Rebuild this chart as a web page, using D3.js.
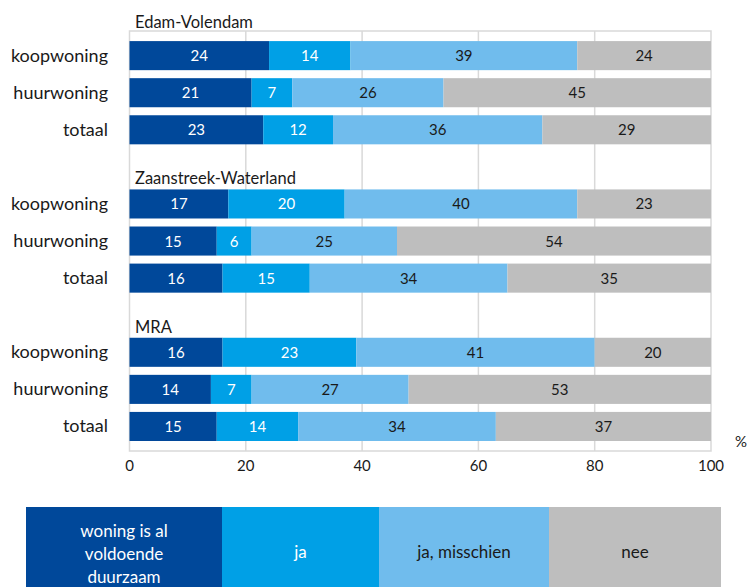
<!DOCTYPE html>
<html>
<head>
<meta charset="utf-8">
<script src="https://cdn.jsdelivr.net/npm/d3@7/dist/d3.min.js"></script>
<style>
  html, body { margin: 0; padding: 0; background: #fff; }
  svg { display: block; font-family: Lato, "Noto Sans", sans-serif; }
</style>
</head>
<body>
<svg id="chart" width="749" height="587"></svg>
<script>
// ---- data ----
const groups = ["Edam-Volendam", "Zaanstreek-Waterland", "MRA"];
const rowTypes = ["koopwoning", "huurwoning", "totaal"];
const seriesNames = ["woning is al voldoende duurzaam", "ja", "ja, misschien", "nee"];
const edamValues = [[24, 14, 39, 24], [21, 7, 26, 45], [23, 12, 36, 29]];
const zaanValues = [[17, 20, 40, 23], [15, 6, 25, 54], [16, 15, 34, 35]];
const mraValues  = [[16, 23, 41, 20], [14, 7, 27, 53], [15, 14, 34, 37]];
const xTicks = [0, 20, 40, 60, 80, 100];

const groupValues = [edamValues, zaanValues, mraValues];
const colors = ["#00489A", "#00A0E6", "#70BCED", "#BEBEBE"];
const labelColors = ["#ffffff", "#ffffff", "#1a1a1a", "#1a1a1a"];
const legendLines = [["woning is al", "voldoende", "duurzaam"], ["ja"], ["ja, misschien"], ["nee"]];

// ---- layout ----
const svg = d3.select("#chart");
const left = 129.5, right = 711, frameTop = 31, frameBottom = 451;

const x = d3.scaleLinear().domain([0, 100]).range([left, right]).clamp(true);

const slots = [];
groups.forEach(g => {
  slots.push(g + "|title");
  rowTypes.forEach(r => slots.push(g + "|" + r));
});
const y = d3.scaleBand().domain(slots).range([0, 445])
  .paddingInner(8 / 37).paddingOuter(4 / 37);

// grid + frame
const gridColor = "#D9D9D9";
svg.append("g").selectAll("line").data(xTicks.slice(1, -1)).join("line")
  .attr("x1", d => x(d)).attr("x2", d => x(d))
  .attr("y1", frameTop).attr("y2", frameBottom)
  .attr("stroke", gridColor).attr("stroke-width", 1.5);
svg.append("rect")
  .attr("x", left).attr("y", frameTop)
  .attr("width", right - left).attr("height", frameBottom - frameTop)
  .attr("fill", "none").attr("stroke", gridColor).attr("stroke-width", 1.5);

// build stacked segments (last segment fills to 100%, as in the source which used unrounded shares)
const rows = [];
groups.forEach((g, gi) => {
  rowTypes.forEach((r, ri) => {
    const vals = groupValues[gi][ri];
    let cum = 0;
    vals.forEach((v, si) => {
      const s = cum;
      cum += v;
      const e = si === vals.length - 1 ? 100 : cum;
      rows.push({ key: g + "|" + r, si, v, s, e });
    });
  });
});

const bars = svg.append("g");
bars.selectAll("rect").data(rows).join("rect")
  .attr("x", d => x(d.s))
  .attr("width", d => x(d.e) - x(d.s))
  .attr("y", d => y(d.key))
  .attr("height", y.bandwidth())
  .attr("fill", d => colors[d.si]);

bars.selectAll("text").data(rows).join("text")
  .attr("x", d => (x(d.s) + x(d.e)) / 2)
  .attr("y", d => y(d.key) + y.bandwidth() / 2 + 5.5)
  .attr("text-anchor", "middle")
  .attr("font-size", 15)
  .attr("fill", d => labelColors[d.si])
  .text(d => d.v);

// category labels
svg.append("g").selectAll("text")
  .data(slots.filter(s => !s.endsWith("|title"))).join("text")
  .attr("x", 108)
  .attr("y", d => y(d) + y.bandwidth() / 2 + 6)
  .attr("text-anchor", "end")
  .attr("font-size", 18)
  .attr("fill", "#1a1a1a")
  .text(d => d.split("|")[1]);

// group titles
svg.append("g").selectAll("text").data(groups).join("text")
  .attr("x", 135)
  .attr("y", (d, i) => i === 0 ? frameTop - 3 : y(d + "|title") + y.bandwidth() + 3)
  .attr("font-size", 16.5)
  .attr("fill", "#1a1a1a")
  .text(d => d);

// x axis tick labels
svg.append("g").selectAll("text").data(xTicks).join("text")
  .attr("x", d => x(d))
  .attr("y", 471)
  .attr("text-anchor", "middle")
  .attr("font-size", 15)
  .attr("fill", "#1a1a1a")
  .text(d => d);
svg.append("text").attr("x", 741).attr("y", 447)
  .attr("text-anchor", "middle").attr("font-size", 15).attr("fill", "#1a1a1a")
  .text("%");

// legend
const legendX = d3.scaleOrdinal().domain(seriesNames).range([26, 222, 379, 549]);
const legendW = [196, 157, 170, 172];
const legendTop = 507;
const lg = svg.append("g");
seriesNames.forEach((name, i) => {
  const x0 = legendX(name);
  lg.append("rect").attr("x", x0).attr("y", legendTop)
    .attr("width", legendW[i]).attr("height", 587 - legendTop + 5)
    .attr("fill", colors[i]);
  const lines = legendLines[i];
  const t = lg.append("text")
    .attr("text-anchor", "middle")
    .attr("font-size", 17)
    .attr("fill", labelColors[i]);
  if (lines.length === 1) {
    t.append("tspan").attr("x", x0 + legendW[i] / 2).attr("y", 558).text(lines[0]);
  } else {
    lines.forEach((ln, li) => {
      t.append("tspan").attr("x", x0 + legendW[i] / 2).attr("y", 537 + li * 23).text(ln);
    });
  }
});
</script>
</body>
</html>
